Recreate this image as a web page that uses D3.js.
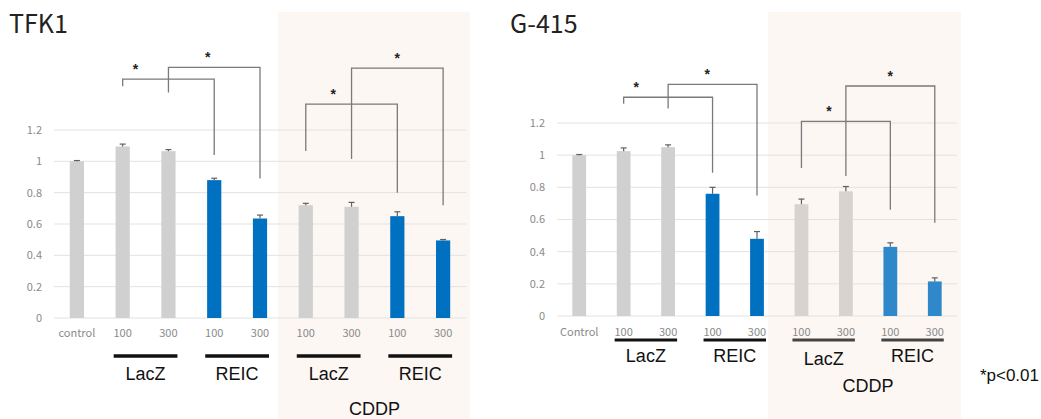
<!DOCTYPE html>
<html>
<head>
<meta charset="utf-8">
<script src="https://cdn.jsdelivr.net/npm/d3@7"></script>
<style>
  body { margin: 0; background: #fff; }
  svg { display: block; }
</style>
</head>
<body>
<div id="chart"></div>
<script>
// Categories (bar order) and the labels under each bar
const categories = ["ctrl", "LacZ100", "LacZ300", "REIC100", "REIC300", "cLacZ100", "cLacZ300", "cREIC100", "cREIC300"];
const tfk1Labels = ["control", "100", "300", "100", "300", "100", "300", "100", "300"];
const g415Labels = ["Control", "100", "300", "100", "300", "100", "300", "100", "300"];

// Values
const tfk1Values = [1.0, 1.095, 1.065, 0.88, 0.635, 0.72, 0.71, 0.65, 0.495];
const tfk1Errors = [0.005, 0.015, 0.01, 0.012, 0.022, 0.012, 0.028, 0.028, 0.006];
const g415Values = [1.0, 1.025, 1.05, 0.76, 0.48, 0.695, 0.775, 0.43, 0.215];
const g415Errors = [0.004, 0.02, 0.014, 0.04, 0.045, 0.032, 0.03, 0.025, 0.022];

// Bar fill groups: 0 = grey, 1 = blue, 2 = grey (CDDP), 3 = blue (CDDP)
const tfk1Kinds = [0, 0, 0, 1, 1, 0, 0, 1, 1];
const g415Kinds = [0, 0, 0, 1, 1, 2, 2, 3, 3];

const yTicks = [0, 0.2, 0.4, 0.6, 0.8, 1, 1.2];

// Groups under the axis: [first bar, last bar, label]
const groups = [[1, 2, "LacZ"], [3, 4, "REIC"], [5, 6, "LacZ"], [7, 8, "REIC"]];

// Significance brackets: [left bar, right bar, top level, left leg end, right leg end, star position]
const tfk1Brackets = [
  [1, 3, 1.525, 1.48, 1.04, 0.14],
  [2, 4, 1.60, 1.44, 0.89, 0.43],
  [5, 7, 1.365, 1.066, 0.80, 0.30],
  [6, 8, 1.595, 1.015, 0.72, 0.50]
];
const g415Brackets = [
  [1, 3, 1.36, 1.32, 0.89, 0.14],
  [2, 4, 1.44, 1.29, 0.75, 0.44],
  [5, 7, 1.21, 0.92, 0.66, 0.31],
  [6, 8, 1.43, 0.87, 0.58, 0.50]
];

const svg = d3.select("#chart")
    .append("svg")
    .attr("width", 1041)
    .attr("height", 419);

function drawPanel(cfg) {
    const g = svg.append("g");

    const x = d3.scaleBand()
        .domain(categories)
        .range([cfg.x0, cfg.x1])
        .paddingInner(0.69)
        .paddingOuter(0.345);

    const y = d3.scaleLinear()
        .domain([0, 1.2])
        .range([cfg.y0, cfg.y12]);

    const cx = i => x(categories[i]) + x.bandwidth() / 2;

    // CDDP shaded area
    const shadeLeft = (cx(4) + cx(5)) / 2 - cfg.shadeShift;
    g.append("rect")
        .attr("x", shadeLeft)
        .attr("y", 12)
        .attr("width", cfg.x1 + 4 - shadeLeft)
        .attr("height", 419 - 12)
        .attr("fill", "#fcf7f3");

    // Title
    g.append("text")
        .attr("x", cfg.titleX)
        .attr("y", 33)
        .text(cfg.title)
        .style("font-family", "'Noto Sans CJK JP', 'Noto Sans', sans-serif")
        .style("font-size", "25px")
        .attr("fill", "#222");

    // Grid lines
    g.append("g")
        .selectAll("line")
        .data(yTicks)
        .enter()
        .append("line")
        .attr("x1", cfg.x0)
        .attr("x2", cfg.x1)
        .attr("y1", d => y(d))
        .attr("y2", d => y(d))
        .attr("stroke", "#e2e2e2")
        .attr("stroke-width", 1);

    // Y tick labels
    g.append("g")
        .selectAll("text")
        .data(yTicks)
        .enter()
        .append("text")
        .attr("x", cfg.x0 - 12)
        .attr("y", d => y(d))
        .attr("dy", "0.35em")
        .attr("text-anchor", "end")
        .text(d => d3.format("~g")(d))
        .style("font-family", "'Noto Sans CJK JP', 'Noto Sans', sans-serif")
        .style("font-size", "11px")
        .attr("fill", "#8a8a8a");

    // Bars
    g.append("g")
        .selectAll("rect")
        .data(cfg.values)
        .enter()
        .append("rect")
        .attr("x", (d, i) => x(categories[i]))
        .attr("y", d => y(d))
        .attr("width", x.bandwidth())
        .attr("height", d => y(0) - y(d))
        .attr("fill", (d, i) => cfg.colors[cfg.kinds[i]]);

    // Error bars
    const err = g.append("g")
        .attr("stroke", "#606060")
        .attr("stroke-width", 1.2);
    cfg.values.forEach((v, i) => {
        const e = cfg.errors[i];
        err.append("line")
            .attr("x1", cx(i)).attr("x2", cx(i))
            .attr("y1", y(v)).attr("y2", y(v + e));
        err.append("line")
            .attr("x1", cx(i) - 3).attr("x2", cx(i) + 3)
            .attr("y1", y(v + e)).attr("y2", y(v + e));
    });

    // X tick labels
    g.append("g")
        .selectAll("text")
        .data(cfg.labels)
        .enter()
        .append("text")
        .attr("x", (d, i) => cx(i))
        .attr("y", cfg.labelY)
        .attr("text-anchor", "middle")
        .text(d => d)
        .style("font-family", "'Noto Sans CJK JP', 'Noto Sans', sans-serif")
        .style("font-size", "11px")
        .attr("fill", "#8a8a8a");

    // Group underlines and names
    groups.forEach((gr, k) => {
        g.append("line")
            .attr("x1", cx(gr[0]) - 9)
            .attr("x2", cx(gr[1]) + 9)
            .attr("y1", cfg.groupLineY)
            .attr("y2", cfg.groupLineY)
            .attr("stroke", k >= 2 ? cfg.cddpLine : "#111")
            .attr("stroke-width", cfg.groupLineW);
        g.append("text")
            .attr("x", (cx(gr[0]) + cx(gr[1])) / 2)
            .attr("y", cfg.groupTextY + (k === 2 ? cfg.lacZShift : 0))
            .attr("text-anchor", "middle")
            .text(gr[2])
            .style("font-family", "'Liberation Sans', Arial, sans-serif")
            .style("font-size", "18px")
            .attr("fill", "#111");
    });

    // CDDP label
    g.append("text")
        .attr("x", (cx(5) + cx(8)) / 2)
        .attr("y", cfg.cddpY)
        .attr("text-anchor", "middle")
        .text("CDDP")
        .style("font-family", "'Liberation Sans', Arial, sans-serif")
        .style("font-size", "18px")
        .attr("fill", "#111");

    // Significance brackets
    const br = g.append("g");
    cfg.brackets.forEach(b => {
        const xl = cx(b[0]), xr = cx(b[1]);
        br.append("path")
            .attr("d", `M${xl},${y(b[3])}V${y(b[2])}H${xr}V${y(b[4])}`)
            .attr("fill", "none")
            .attr("stroke", "#7a7a7a")
            .attr("stroke-width", 1.3);
        br.append("text")
            .attr("x", xl + (xr - xl) * b[5])
            .attr("y", y(b[2]) - 5)
            .attr("text-anchor", "middle")
            .text("*")
            .style("font-family", "'Liberation Sans', Arial, sans-serif")
            .style("font-size", "14px")
            .style("font-weight", "bold")
            .attr("fill", "#222");
    });
}

drawPanel({
    title: "TFK1", titleX: 9,
    x0: 54, x1: 466, y0: 318, y12: 130,
    values: tfk1Values, errors: tfk1Errors, kinds: tfk1Kinds, labels: tfk1Labels,
    colors: ["#d0d0d0", "#0070c0", "#d0d0d0", "#0070c0"],
    brackets: tfk1Brackets, shadeShift: 5,
    labelY: 337, groupLineY: 356, groupLineW: 3.5, cddpLine: "#111",
    groupTextY: 380, lacZShift: 0, cddpY: 415
});

drawPanel({
    title: "G-415", titleX: 510,
    x0: 557, x1: 957, y0: 316, y12: 123,
    values: g415Values, errors: g415Errors, kinds: g415Kinds, labels: g415Labels,
    colors: ["#d0d0d0", "#0070c0", "#d6d3d1", "#2f88c9"],
    brackets: g415Brackets, shadeShift: 11,
    labelY: 336, groupLineY: 340, groupLineW: 3.2, cddpLine: "#444",
    groupTextY: 362, lacZShift: 3, cddpY: 392
});

// p-value note
svg.append("text")
    .attr("x", 1039)
    .attr("y", 381)
    .attr("text-anchor", "end")
    .text("*p<0.01")
    .style("font-family", "'Liberation Sans', Arial, sans-serif")
    .style("font-size", "17px")
    .attr("fill", "#111");
</script>
</body>
</html>
